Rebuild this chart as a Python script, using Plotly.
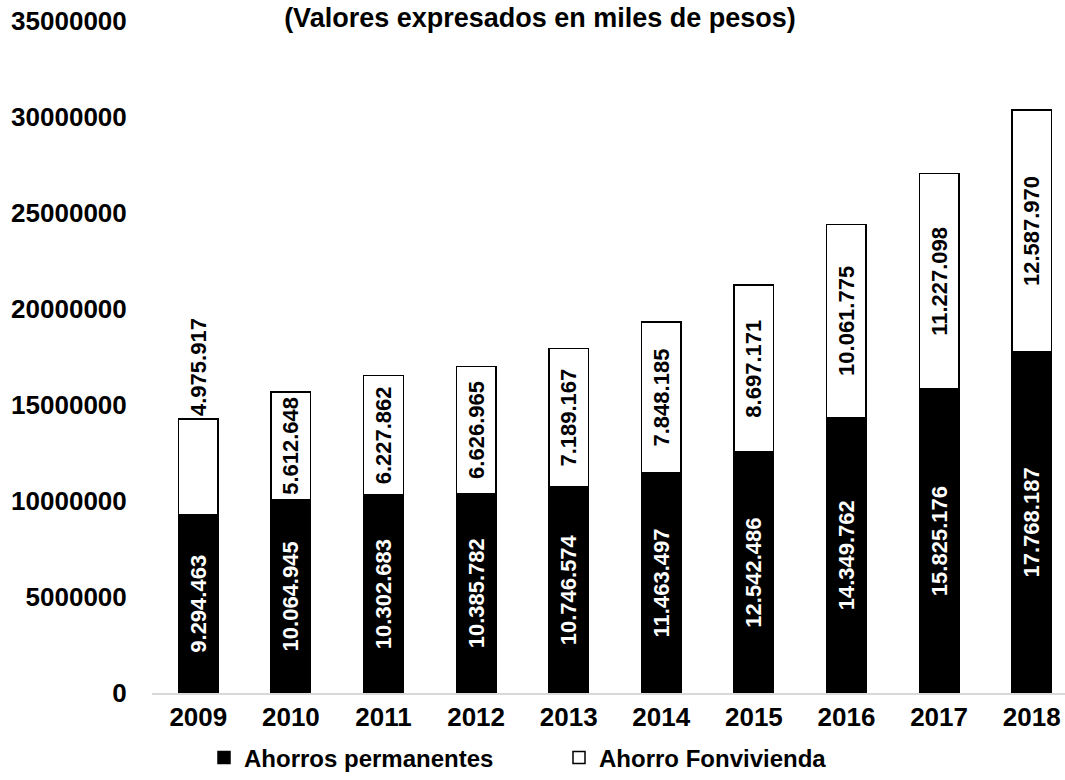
import plotly.graph_objects as go

years = ["2009", "2010", "2011", "2012", "2013", "2014", "2015", "2016", "2017", "2018"]
ahorros_permanentes = [9294463, 10064945, 10302683, 10385782, 10746574,
                       11463497, 12542486, 14349762, 15825176, 17768187]
ahorro_fonvivienda = [4975917, 5612648, 6227862, 6626965, 7189167,
                      7848185, 8697171, 10061775, 11227098, 12587970]
y_ticks = [0, 5000000, 10000000, 15000000, 20000000, 25000000, 30000000, 35000000]


def miles(v):
    return f"{v:,}".replace(",", ".")


FONT = "Liberation Sans, Arial, sans-serif"
W, H = 1065, 780

fig = go.Figure()
fig.add_trace(go.Bar(
    name="Ahorros permanentes", x=years, y=ahorros_permanentes,
    marker=dict(color="black", line=dict(color="black", width=1.5)),
    text=[miles(v) for v in ahorros_permanentes],
    textposition="inside", insidetextanchor="middle", textangle=-90,
    textfont=dict(color="white", size=22, family=FONT, weight="bold"),
))
fig.add_trace(go.Bar(
    name="Ahorro Fonvivienda", x=years, y=ahorro_fonvivienda,
    marker=dict(color="white", line=dict(color="black", width=1.5)),
    text=[miles(v) for v in ahorro_fonvivienda],
    textposition=["outside"] + ["inside"] * 9, insidetextanchor="middle", textangle=-90,
    textfont=dict(color="black", size=22, family=FONT, weight="bold"),
    cliponaxis=False,
))

fig.update_layout(
    barmode="stack", bargap=0.573,
    width=W, height=H,
    margin=dict(l=152, r=0, t=21, b=87),
    paper_bgcolor="white", plot_bgcolor="white",
    font=dict(family=FONT, color="black", size=24, weight="bold"),
    uniformtext=dict(minsize=22, mode="show"),
    title=dict(text="(Valores expresados en miles de pesos)",
               font=dict(size=27, family=FONT, weight="bold"),
               x=540 / W, xanchor="center", xref="container",
               y=1 - 18 / H, yanchor="middle", yref="container"),
    showlegend=True,
    legend=dict(orientation="h", xref="container", yref="container",
                traceorder="normal",
                x=204 / W, xanchor="left", y=1 - 758 / H, yanchor="middle",
                font=dict(size=24, family=FONT, weight="bold"),
                entrywidth=310, itemclick=False),
    xaxis=dict(range=[-0.5, 9.36], showline=True, linecolor="#d9d9d9", linewidth=2,
               showgrid=False, ticks="", tickfont=dict(size=26), automargin=False,
               ticklabeloverflow="allow"),
    yaxis=dict(range=[0, 35000000], tickvals=y_ticks, ticktext=[str(v) for v in y_ticks],
               showgrid=False, zeroline=False, showline=False,
               ticks="outside", ticklen=19, tickcolor="white",
               tickfont=dict(size=26), automargin=False, ticklabeloverflow="allow"),
)

# drop the default body margin so the figure fills the window exactly
fig.write_html("out.html", config={"displayModeBar": False},
               post_script="document.body.style.margin = '0';")
